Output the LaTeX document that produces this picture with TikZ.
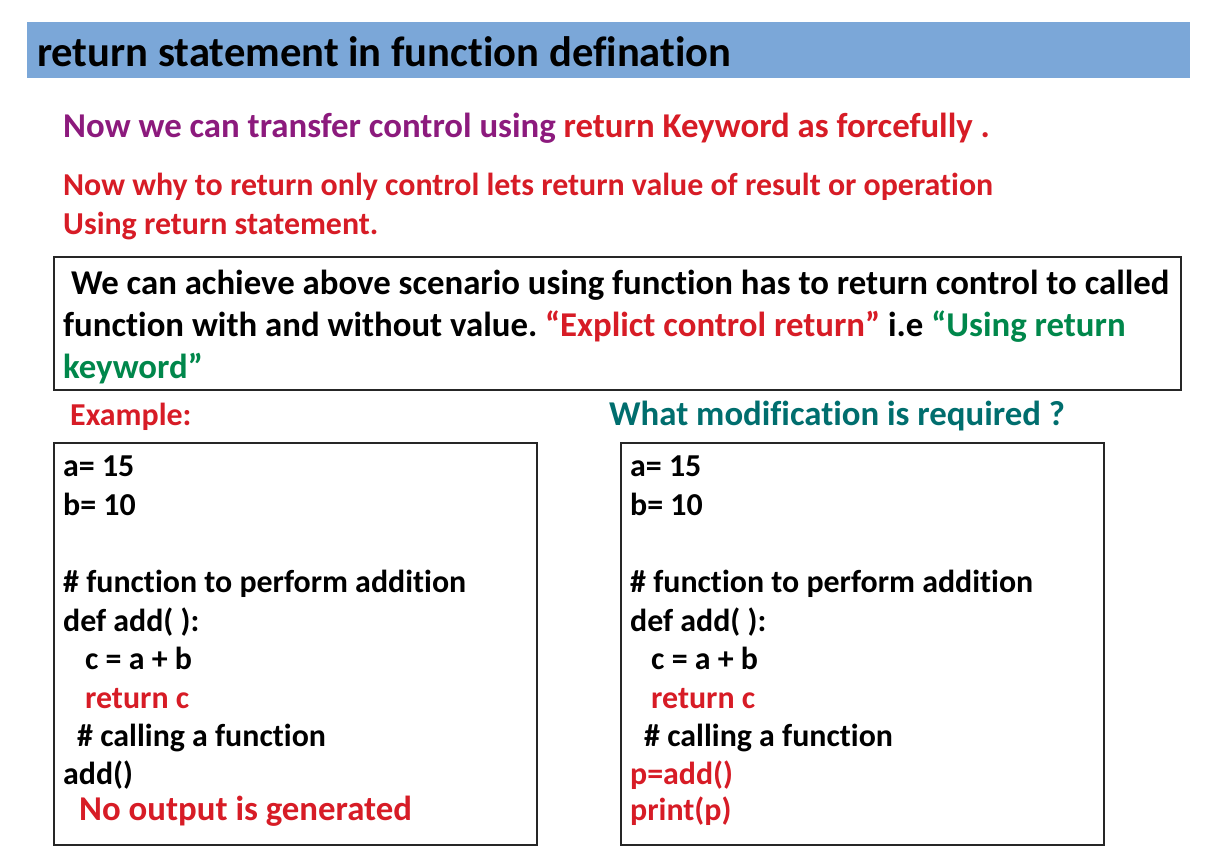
\documentclass[tikz,border=0pt]{standalone}
\usepackage{fontspec}
\setmainfont{Carlito}[RawFeature={-liga,-clig,-dlig}]
\definecolor{barblue}{RGB}{123,167,216}
\definecolor{pptred}{RGB}{215,28,38}
\definecolor{pptpurple}{RGB}{140,26,125}
\definecolor{pptgreen}{RGB}{0,135,75}
\definecolor{pptteal}{RGB}{0,110,110}
\tikzset{
  txt/.style={anchor=base west, inner sep=0pt, font=\bfseries},
  big/.style={font=\bfseries\fontsize{34.8}{40}\selectfont},
  mid/.style={font=\bfseries\fontsize{31.9}{38}\selectfont},
  frame/.style={draw=black!85, line width=1.2pt},
}
\begin{document}
\frenchspacing
\begin{tikzpicture}[x=1pt,y=-1pt]
\useasboundingbox (0,0) rectangle (1225,866);
\fill[white] (0,0) rectangle (1225,866);
% title bar
\fill[barblue] (27,22) rectangle (1190,78);
\node[txt, font=\bfseries\fontsize{42.6}{48}\selectfont] (title) at (37,67) {return statement in function defination};
% intro lines
\node[txt, big, text=pptpurple] (l1) at (63,138) {Now we can transfer control using \textcolor{pptred}{return Keyword as forcefully .}};
\node[txt, mid, text=pptred] (l2) at (63,196) {Now why to return only control lets return value of result or operation};
\node[txt, mid, text=pptred] (l3) at (63,235) {Using return statement.};
% explanation box
\draw[frame] (54,257) rectangle (1181,390);
\node[txt, big] (b1) at (63,295) {\ We can achieve above scenario using function has to return control to called};
\node[txt, big] (b2) at (63,336) {function with and without value. \textcolor{pptred}{“Explict control return”} i.e \textcolor{pptgreen}{“Using return}};
\node[txt, big, text=pptgreen] (b3) at (63,378) {keyword”};
% headings
\node[txt, mid, text=pptred] (ex) at (70,425) {Example:};
\node[txt, big, text=pptteal] (mod) at (609,425) {What modification is required ?};
% left code box
\draw[frame] (54,443) rectangle (537,845);
\node[txt, mid] (la) at (63,476) {a= 15};
\node[txt, mid] (lb) at (63,515) {b= 10};
\node[txt, mid] (lc) at (63,592) {\# function to perform addition};
\node[txt, mid] (ld) at (63,631) {def add( ):};
\node[txt, mid] (le) at (85,669) {c = a + b};
\node[txt, mid, text=pptred] (lf) at (85,708) {return c};
\node[txt, mid] (lg) at (77,746) {\# calling a function};
\node[txt, mid] (lh) at (63,784) {add()};
\node[txt, big, text=pptred] (li) at (79,820) {No output is generated};
% right code box
\draw[frame] (621,443) rectangle (1104,845);
\node[txt, mid] (ra) at (630,476) {a= 15};
\node[txt, mid] (rb) at (630,515) {b= 10};
\node[txt, mid] (rc) at (630,592) {\# function to perform addition};
\node[txt, mid] (rd) at (630,631) {def add( ):};
\node[txt, mid] (re) at (651,669) {c = a + b};
\node[txt, mid, text=pptred] (rf) at (651,708) {return c};
\node[txt, mid] (rg) at (644,746) {\# calling a function};
\node[txt, mid, text=pptred] (rh) at (630,784) {p=add()};
\node[txt, mid, text=pptred] (ri) at (630,820) {print(p)};
\end{tikzpicture}
\end{document}
